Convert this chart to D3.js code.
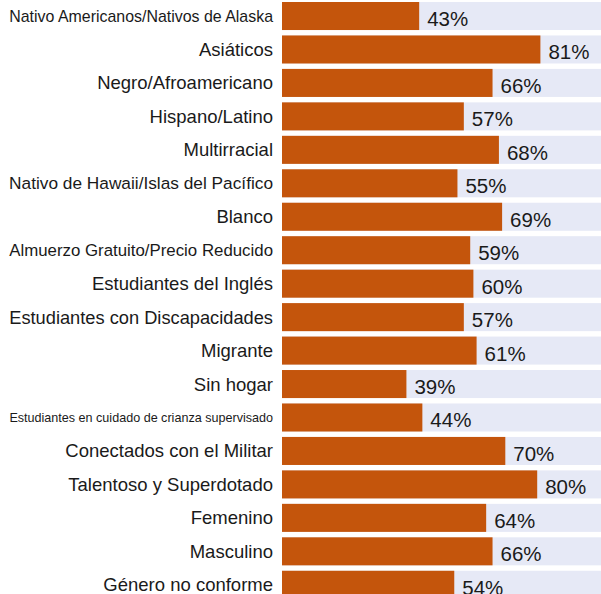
<!DOCTYPE html>
<html>
<head>
<meta charset="utf-8">
<script src="https://cdn.jsdelivr.net/npm/d3@7"></script>
<style>
  body { margin: 0; background: #fff; }
  svg { display: block; font-family: "Liberation Sans", Arial, sans-serif; }
</style>
</head>
<body>
<div id="chart"></div>
<script>
// categories and values
const groups = [
    "Nativo Americanos/Nativos de Alaska",
    "Asiáticos",
    "Negro/Afroamericano",
    "Hispano/Latino",
    "Multirracial",
    "Nativo de Hawaii/Islas del Pacífico",
    "Blanco",
    "Almuerzo Gratuito/Precio Reducido",
    "Estudiantes del Inglés",
    "Estudiantes con Discapacidades",
    "Migrante",
    "Sin hogar",
    "Estudiantes en cuidado de crianza supervisado",
    "Conectados con el Militar",
    "Talentoso y Superdotado",
    "Femenino",
    "Masculino",
    "Género no conforme"
];
const rates = [43, 81, 66, 57, 68, 55, 69, 59, 60, 57, 61, 39, 44, 70, 80, 64, 66, 54];

const width = 601, height = 594;
const left = 282;
const maxLabel = 264;
const labelSize = 18.5;

let svg = d3.select("#chart")
    .append("svg")
    .attr("width", width)
    .attr("height", height);

let x = d3.scaleLinear()
    .domain([0, 100])
    .range([left, width]);

let y = d3.scaleBand()
    .domain(groups)
    .range([2, 598.8])
    .paddingInner(0.162)
    .paddingOuter(0);

let data = groups.map((g, i) => ({ name: g, value: rates[i] }));

// light background track
svg.selectAll("rect.track")
    .data(data)
    .enter()
    .append("rect")
    .attr("class", "track")
    .attr("x", x(0))
    .attr("y", d => y(d.name))
    .attr("width", x(100) - x(0))
    .attr("height", y.bandwidth())
    .attr("fill", "#e6e9f6");

svg.selectAll("rect.bar")
    .data(data)
    .enter()
    .append("rect")
    .attr("class", "bar")
    .attr("x", x(0))
    .attr("y", d => y(d.name))
    .attr("width", d => x(d.value) - x(0))
    .attr("height", y.bandwidth())
    .attr("fill", "#c4550c");

// category labels, shrunk when too long
svg.selectAll("text.label")
    .data(data)
    .enter()
    .append("text")
    .attr("class", "label")
    .attr("x", 273)
    .attr("y", d => y(d.name) + y.bandwidth() / 2)
    .attr("dy", "0.35em")
    .style("text-anchor", "end")
    .style("font-size", labelSize + "px")
    .attr("fill", "#1a1a1a")
    .text(d => d.name)
    .each(function() {
        let w = this.getComputedTextLength();
        if (w > maxLabel) {
            d3.select(this).style("font-size", (labelSize * maxLabel / w) + "px");
        }
    });

// value labels
svg.selectAll("text.value")
    .data(data)
    .enter()
    .append("text")
    .attr("class", "value")
    .attr("x", d => x(d.value) + 8)
    .attr("y", d => y(d.name) + y.bandwidth() / 2 + 10)
    .style("font-size", "20.5px")
    .attr("fill", "#1a1a1a")
    .text(d => d.value + "%");
</script>
</body>
</html>
